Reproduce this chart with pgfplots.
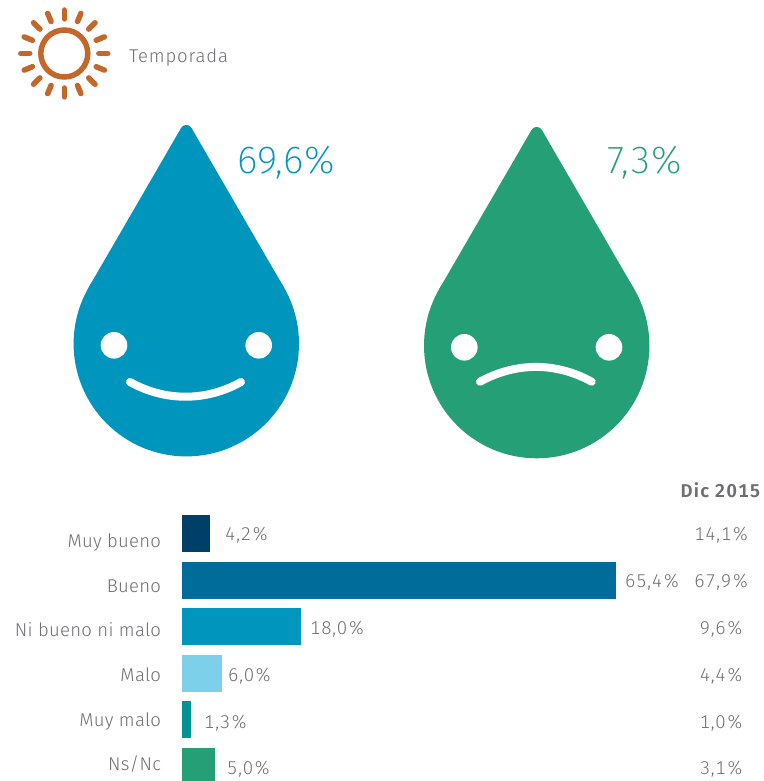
\documentclass[border=0pt]{standalone}
\usepackage{fontspec}
\setmainfont[Numbers={Lining,Monospaced},LetterSpace=1.5]{Fira Sans Light}
\newfontfamily\valf[Numbers={Lining,Monospaced},LetterSpace=4]{Fira Sans Light}
\newfontfamily\tempf[Numbers={Lining,Monospaced},LetterSpace=4.5]{Fira Sans Light}
\newfontfamily\boldf[Numbers={Lining,Monospaced},LetterSpace=7]{Fira Sans SemiBold}
\newfontfamily\thinf[LetterSpace=1.5]{Fira Sans ExtraLight}
\newfontfamily\thing[LetterSpace=4]{Fira Sans ExtraLight}
\usepackage{pgfplots}
\pgfplotsset{compat=1.18}
\definecolor{txt}{HTML}{6D6E71}
\definecolor{cA}{HTML}{004068}
\definecolor{cB}{HTML}{006C9A}
\definecolor{cC}{HTML}{0095BC}
\definecolor{cD}{HTML}{7DD0E9}
\definecolor{cE}{HTML}{009295}
\definecolor{cF}{HTML}{25A076}
\definecolor{sun}{HTML}{C4672A}
\newcommand{\lab}{\fontsize{18.5}{20}\selectfont}
\begin{document}
\begin{tikzpicture}[x=1pt,y=-1pt]
\useasboundingbox (0,0) rectangle (763,781);
% sun
\draw[sun,line width=5.5pt] (64.3,53.5) circle[radius=23.5pt];
\foreach \a in {0,22.5,...,337.5}
  \draw[sun,line width=5.5pt,line cap=round] ([shift={(64.3,53.5)}]\a:34.5) -- ([shift={(64.3,53.5)}]\a:43.5);
\node[anchor=west,inner sep=0pt,text=txt,text height=13pt,text depth=4pt] at (129,58) {\tempf\lab Temporada};
% blue drop
\fill[cC] (186.3,343.7) circle[radius=112.7pt];
\fill[cC] (186.3,131) circle[radius=6pt];
\fill[cC] (181.1,128) -- (191.5,128) -- (283.9,287.4) -- (88.7,287.4) -- cycle;
\fill[white] (114,345.3) circle[radius=13.3pt];
\fill[white] (258.7,345.3) circle[radius=13.3pt];
\draw[white,line width=8pt,line cap=round] (130,382) .. controls (165,401.6) and (206,401.6) .. (241,382);
\node[anchor=west,inner sep=0pt,text=cC,text height=27pt,text depth=5pt] at (237,162) {\thinf\fontsize{39}{40}\selectfont 69,6\%};
% green drop
\fill[cF] (536.7,345.6) circle[radius=112.7pt];
\fill[cF] (536.7,133) circle[radius=6pt];
\fill[cF] (531.5,130) -- (541.9,130) -- (634.3,289.3) -- (439.1,289.3) -- cycle;
\fill[white] (464.3,347.3) circle[radius=13.3pt];
\fill[white] (609,347.3) circle[radius=13.3pt];
\draw[white,line width=8pt,line cap=round] (480,381.7) .. controls (516,362) and (556,362) .. (591.7,381.7);
\node[anchor=west,inner sep=0pt,text=cF,text height=27pt,text depth=5pt] at (607,162) {\thing\fontsize{39}{40}\selectfont 7,3\%};
% bars
\begin{axis}[
  at={(182pt,-781pt)},anchor=south west,
  scale only axis,width=581pt,height=271pt,
  xmin=0,xmax=87.55,ymin=-0.504,ymax=5.31,y dir=reverse,
  axis line style={draw=none},tick style={draw=none},
  xtick=\empty,
  ytick={0.205,1.172,2.115,3.081,4.045,4.991},
  yticklabels={Muy bueno,Bueno,Ni bueno ni malo,Malo,Muy malo,Ns/Nc},
  y tick label style={anchor=east,inner sep=0pt,xshift=-16.5pt,text=txt,text height=13pt,text depth=4pt,font=\lab},
  xbar,bar shift=0pt,bar width=37pt,
]
\addplot[fill=cA,draw=none] coordinates {(4.2,0)};
\addplot[fill=cB,draw=none] coordinates {(65.4,1)};
\addplot[fill=cC,draw=none] coordinates {(18.0,2)};
\addplot[fill=cD,draw=none] coordinates {(6.0,3)};
\addplot[fill=cE,draw=none] coordinates {(1.3,4)};
\addplot[fill=cF,draw=none] coordinates {(5.0,5)};
\end{axis}
% value labels
\begin{scope}[every node/.style={inner sep=0pt,text=txt,text height=13pt,text depth=4pt,font=\valf\lab}]
\node[anchor=west] at (225,536) {4,2\%};
\node[anchor=west] at (625,583) {65,4\%};
\node[anchor=west] at (310,630) {18,0\%};
\node[anchor=west] at (228,677) {6,0\%};
\node[anchor=west] at (204,724) {1,3\%};
\node[anchor=west] at (227,770) {5,0\%};
\node at (721.5,536) {14,1\%};
\node at (721.5,583) {67,9\%};
\node at (721.5,630) {9,6\%};
\node at (721.5,677) {4,4\%};
\node at (721.5,724) {1,0\%};
\node at (721.5,770) {3,1\%};
\node[anchor=east] at (760.5,493) {\boldf Dic 2015};
\end{scope}
\end{tikzpicture}
\end{document}
